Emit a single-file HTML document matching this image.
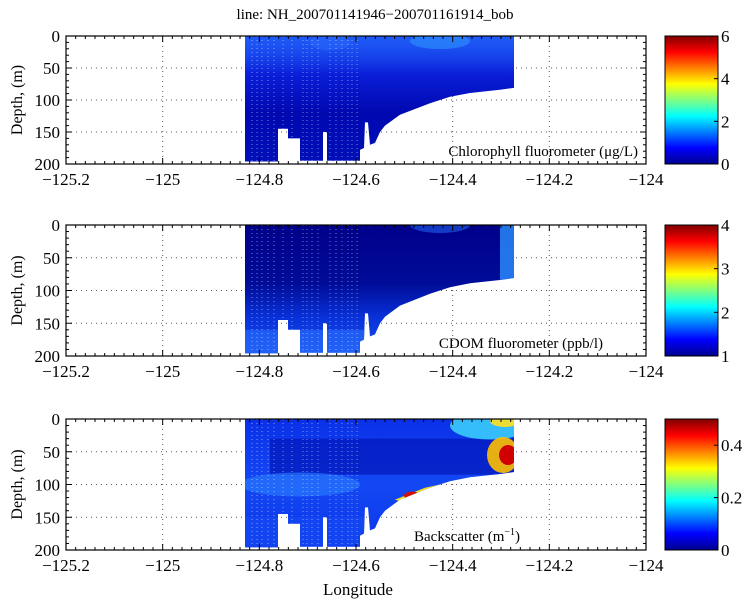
<!DOCTYPE html>
<html><head><meta charset="utf-8"><style>
html,body{margin:0;padding:0;background:#fff;}
svg{display:block;font-family:"Liberation Serif",serif;}
</style></head><body>
<svg id="s" width="750" height="601" xmlns="http://www.w3.org/2000/svg">
<defs>
<linearGradient id="jet" x1="0" y1="1" x2="0" y2="0">
<stop offset="0" stop-color="#00008f"/><stop offset="0.125" stop-color="#0000ff"/>
<stop offset="0.375" stop-color="#00ffff"/><stop offset="0.625" stop-color="#ffff00"/>
<stop offset="0.875" stop-color="#ff0000"/><stop offset="1" stop-color="#800000"/>
</linearGradient>
<linearGradient id="g1" x1="0" y1="0" x2="0" y2="1">
<stop offset="0" stop-color="#1848f0"/><stop offset="0.3" stop-color="#0a1ed8"/><stop offset="0.6" stop-color="#0008b0"/><stop offset="1" stop-color="#0010b8"/>
</linearGradient>
<linearGradient id="g1b" x1="0" y1="0" x2="0" y2="1">
<stop offset="0" stop-color="#2060f8" stop-opacity="0.8"/><stop offset="1" stop-color="#2060f8" stop-opacity="0"/>
</linearGradient>
<linearGradient id="g2" x1="0" y1="0" x2="0" y2="1">
<stop offset="0" stop-color="#00008a"/><stop offset="0.45" stop-color="#000c98"/><stop offset="0.7" stop-color="#0830d8"/><stop offset="1" stop-color="#1850f0"/>
</linearGradient>
<linearGradient id="g3" x1="0" y1="0" x2="0" y2="1">
<stop offset="0" stop-color="#0a30e8"/><stop offset="0.5" stop-color="#1448f4"/><stop offset="1" stop-color="#0a34e8"/>
</linearGradient>
</defs>
<text x="375" y="19" font-size="15" text-anchor="middle">line: NH_200701141946−200701161914_bob</text>
<g id="panels"></g>
<text x="358" y="595" font-size="17" text-anchor="middle">Longitude</text>
</svg>
<script>
const NS="http://www.w3.org/2000/svg";
const root=document.getElementById('panels');
function el(t,a,p){const e=document.createElementNS(NS,t);for(const k in a)e.setAttribute(k,a[k]);(p||root).appendChild(e);return e;}
const L=66,R=646,W=R-L;
const X=lon=>L+(lon+125.2)/1.2*W;
const panels=[
 {top:36,h:128,fill:'url(#g1)',cb:[0,6],cbt:[0,2,4,6],lab:'Chlorophyll fluorometer (μg/L)',lx:638},
 {top:225,h:131,fill:'url(#g2)',cb:[1,4],cbt:[1,2,3,4],lab:'CDOM fluorometer (ppb/l)',lx:603},
 {top:419,h:131,fill:'url(#g3)',cb:[0,0.5],cbt:[0,0.2,0.4],lab:'Backscatter',lx:0}
];
const outline=[[245,0],[514,0],[514,81],[500,84],[470,89],[450,95],[430,105],[400,123],[385,140],[380,150],[375,167],[370,170],[368,135],[365,135],[364,175],[360,178],[360,195],[327,195],[327,150],[323,150],[323,195],[300,195],[300,160],[288,160],[288,145],[278,145],[278,196],[245,196]];
panels.forEach((p,i)=>{
 const Y=d=>p.top+d/200*p.h;
 const g=el('g',{});
 for(let k=1;k<6;k++){const x=X(-125.2+0.2*k);el('line',{x1:x,y1:p.top,x2:x,y2:p.top+p.h,stroke:'#555','stroke-dasharray':'1,4','stroke-width':1},g);}
 for(const d of [50,100,150]){el('line',{x1:L,y1:Y(d),x2:R,y2:Y(d),stroke:'#555','stroke-dasharray':'1,4','stroke-width':1},g);}
 const pts=outline.map(q=>q[0]+','+Y(q[1])).join(' ');
 const cp=el('clipPath',{id:'c'+i},g);el('polygon',{points:pts},cp);
 const dg=el('g',{'clip-path':'url(#c'+i+')'},g);
 el('rect',{x:240,y:p.top,width:280,height:p.h,fill:p.fill},dg);
 if(i==0){
  el('rect',{x:240,y:Y(0),width:280,height:Y(60)-Y(0),fill:'url(#g1b)'},dg);
  el('ellipse',{cx:440,cy:Y(8),rx:30,ry:8,fill:'#30a0ff',opacity:0.5},dg);
  el('ellipse',{cx:330,cy:Y(10),rx:20,ry:8,fill:'#3070ff',opacity:0.4},dg);
 }
 if(i==1){
  el('rect',{x:500,y:Y(0),width:16,height:Y(90)-Y(0),fill:'#2a90ff',opacity:0.8},dg);
  el('ellipse',{cx:440,cy:Y(0),rx:30,ry:8,fill:'#2060f0',opacity:0.6},dg);
  el('rect',{x:240,y:Y(160),width:130,height:Y(200)-Y(160),fill:'#2a70ff',opacity:0.6},dg);
 }
 if(i==2){
  el('rect',{x:270,y:Y(30),width:245,height:Y(85)-Y(30),fill:'#0010b0',opacity:0.6},dg);
  el('ellipse',{cx:300,cy:Y(100),rx:60,ry:12,fill:'#2c80ff',opacity:0.6},dg);
  el('ellipse',{cx:490,cy:Y(10),rx:40,ry:14,fill:'#40e0ff',opacity:0.8},dg);
  el('ellipse',{cx:505,cy:Y(3),rx:15,ry:6,fill:'#ffe020',opacity:0.9},dg);
  el('ellipse',{cx:503,cy:Y(55),rx:16,ry:18,fill:'#ffc000',opacity:0.9},dg);
  el('ellipse',{cx:508,cy:Y(55),rx:9,ry:10,fill:'#d00000'},dg);
  el('polygon',{points:`395,${Y(123)} 425,${Y(105)} 440,${Y(100)} 430,${Y(112)} 405,${Y(128)}`,fill:'#f0e020'},dg);
  el('ellipse',{cx:412,cy:Y(117),rx:8,ry:4,fill:'#d01000'},dg);
  el('rect',{x:240,y:Y(150),width:130,height:Y(200)-Y(150),fill:'#1850f8',opacity:0.5},dg);
 }
 const px=[252,257,262,268,274,283,292,303,307,312,318,330,336,342,348,352,357];
 px.forEach(x=>el('line',{x1:x,y1:p.top,x2:x,y2:p.top+p.h,stroke:'#fff','stroke-dasharray':'1,3','stroke-width':0.8,opacity:0.6},dg));
 el('rect',{x:L,y:p.top,width:W,height:p.h,fill:'none',stroke:'#000','stroke-width':1.2},g);
 for(let k=0;k<=60;k++){const x=L+k*W/60;const len=(k%10==0)?6:3;
  el('line',{x1:x,y1:p.top,x2:x,y2:p.top+len,stroke:'#000'},g);el('line',{x1:x,y1:p.top+p.h,x2:x,y2:p.top+p.h-len,stroke:'#000'},g);}
 for(let d=0;d<=200;d+=10){const y=Y(d);const len=(d%50==0)?6:3;
  el('line',{x1:L,y1:y,x2:L+len,y2:y,stroke:'#000'},g);el('line',{x1:R,y1:y,x2:R-len,y2:y,stroke:'#000'},g);}
 [-125.2,-125,-124.8,-124.6,-124.4,-124.2,-124].forEach(v=>{const t=el('text',{x:X(v),y:p.top+p.h+21,'font-size':17,'text-anchor':'middle'},g);t.textContent=String(v).replace('-','−');});
 [0,50,100,150,200].forEach(d=>{const t=el('text',{x:60,y:Y(d)+6,'font-size':17,'text-anchor':'end'},g);t.textContent=d;});
 const yl=el('text',{x:0,y:0,'font-size':16,'text-anchor':'middle',transform:`translate(22,${p.top+p.h/2}) rotate(-90)`},g);yl.textContent='Depth, (m)';
 if(i<2){const t=el('text',{x:p.lx,y:p.top+p.h-8,'font-size':15,'text-anchor':'end'},g);t.textContent=p.lab;}
 else{const t=el('text',{x:414,y:p.top+p.h-9,'font-size':15},g);t.innerHTML='Backscatter (m<tspan dy="-6" font-size="10">−1</tspan><tspan dy="6">)</tspan>';}
 el('rect',{x:665,y:p.top,width:53,height:p.h,fill:'url(#jet)',stroke:'#000','stroke-width':1},g);
 p.cbt.forEach(v=>{const y=p.top+p.h-(v-p.cb[0])/(p.cb[1]-p.cb[0])*p.h;
  el('line',{x1:718,y1:y,x2:714,y2:y,stroke:'#000'},g);
  const t=el('text',{x:721,y:y+6,'font-size':17},g);t.textContent=v;});
});
</script>
</body></html>
